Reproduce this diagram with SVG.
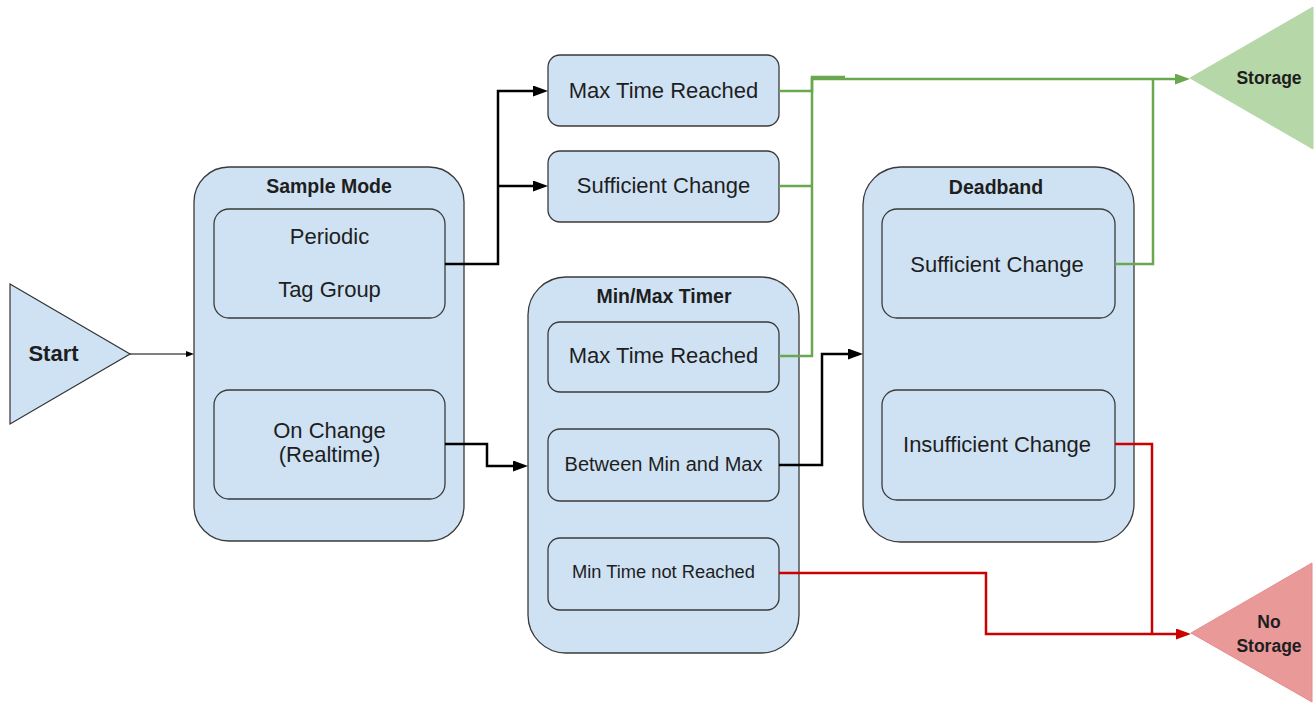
<svg xmlns="http://www.w3.org/2000/svg" width="1315" height="703" viewBox="0 0 1315 703">
  <style>
    .box { fill: #cfe2f3; stroke: #3a3a3a; stroke-width: 1.3; }
    .t { font-family: "Liberation Sans", Arial, sans-serif; fill: #1e1e1e; text-anchor: middle; }
    .lbl { font-size: 22px; }
    .ttl { font-size: 19.5px; font-weight: bold; }
    .term { font-weight: bold; }
    .wire { fill: none; stroke-width: 2.5; stroke-linejoin: miter; }
    .blk { stroke: #000; }
    .grn { stroke: #6aa84f; }
    .red { stroke: #cc0000; }
  </style>
  <defs>
    <marker id="ahBlack" markerUnits="userSpaceOnUse" markerWidth="15" markerHeight="11" refX="9" refY="5.5" orient="auto">
      <path d="M0,0 L15,5.5 L0,11 z" fill="#000"/>
    </marker>
    <marker id="ahGreen" markerUnits="userSpaceOnUse" markerWidth="15" markerHeight="11" refX="9" refY="5.5" orient="auto">
      <path d="M0,0 L15,5.5 L0,11 z" fill="#6aa84f"/>
    </marker>
    <marker id="ahRed" markerUnits="userSpaceOnUse" markerWidth="15" markerHeight="11" refX="9" refY="5.5" orient="auto">
      <path d="M0,0 L15,5.5 L0,11 z" fill="#cc0000"/>
    </marker>
    <marker id="ahSmall" markerUnits="userSpaceOnUse" markerWidth="8" markerHeight="6" refX="5" refY="3" orient="auto">
      <path d="M0,0 L8,3 L0,6 z" fill="#000"/>
    </marker>
  </defs>

  <!-- terminals -->
  <g id="start">
    <polygon points="10,284 130,354 10,424" fill="#cfe2f3" stroke="#333" stroke-width="1.2"/>
    <text class="t term" x="53.5" y="361" font-size="22">Start</text>
  </g>
  <g id="storage">
    <polygon points="1313,7 1190,78 1313,149" fill="#b6d7a8" stroke="#b6d7a8" stroke-width="1"/>
    <text class="t term" x="1269" y="84" font-size="17.5">Storage</text>
  </g>
  <g id="no-storage">
    <polygon points="1312,563 1191,633 1312,702" fill="#ea9999" stroke="#e58c8c" stroke-width="1"/>
    <text class="t term" x="1269" y="628" font-size="17.5">No</text>
    <text class="t term" x="1269" y="652" font-size="17.5">Storage</text>
  </g>

  <!-- sample mode -->
  <g id="sample-mode">
    <rect class="box" x="194" y="167" width="270" height="374" rx="35"/>
    <text class="t ttl" x="329" y="193">Sample Mode</text>
  </g>
  <g id="periodic">
    <rect class="box" x="214" y="209" width="231" height="109" rx="15"/>
    <text class="t lbl" x="329.5" y="244">Periodic</text>
    <text class="t lbl" x="329.5" y="297">Tag Group</text>
  </g>
  <g id="on-change">
    <rect class="box" x="214" y="390" width="231" height="109" rx="15"/>
    <text class="t lbl" x="329.5" y="438">On Change</text>
    <text class="t lbl" x="329.5" y="462">(Realtime)</text>
  </g>

  <!-- periodic outcomes -->
  <g id="max-time-top">
    <rect class="box" x="548" y="55" width="231" height="71" rx="12"/>
    <text class="t lbl" x="663.5" y="98">Max Time Reached</text>
  </g>
  <g id="sufficient-top">
    <rect class="box" x="548" y="151" width="231" height="71" rx="12"/>
    <text class="t lbl" x="663.5" y="193">Sufficient Change</text>
  </g>

  <!-- min/max timer -->
  <g id="min-max-timer">
    <rect class="box" x="528" y="277" width="271" height="376" rx="38"/>
    <text class="t ttl" x="664" y="303">Min/Max Timer</text>
  </g>
  <g id="max-time-timer">
    <rect class="box" x="548" y="322" width="231" height="70" rx="12"/>
    <text class="t lbl" x="663.5" y="363">Max Time Reached</text>
  </g>
  <g id="between">
    <rect class="box" x="548" y="429" width="231" height="72" rx="12"/>
    <text class="t" x="663.5" y="471" font-size="20">Between Min and Max</text>
  </g>
  <g id="min-time">
    <rect class="box" x="548" y="538" width="231" height="72" rx="12"/>
    <text class="t" x="663.5" y="578" font-size="18.3">Min Time not Reached</text>
  </g>

  <!-- deadband -->
  <g id="deadband">
    <rect class="box" x="863" y="167" width="271" height="375" rx="38"/>
    <text class="t ttl" x="996" y="194">Deadband</text>
  </g>
  <g id="db-sufficient">
    <rect class="box" x="882" y="209" width="233" height="109" rx="15"/>
    <text class="t lbl" x="997" y="272">Sufficient Change</text>
  </g>
  <g id="db-insufficient">
    <rect class="box" x="882" y="390" width="233" height="110" rx="15"/>
    <text class="t lbl" x="997" y="452">Insufficient Change</text>
  </g>

  <!-- connectors -->
  <g id="connectors">
    <path d="M130,354 H191" fill="none" stroke="#000" stroke-width="1.2" marker-end="url(#ahSmall)"/>
    <path class="wire blk" d="M445,264 H498 V91 H542" marker-end="url(#ahBlack)"/>
    <path class="wire blk" d="M498,186 H542" marker-end="url(#ahBlack)"/>
    <path class="wire blk" d="M445,444 H487 V466 H522" marker-end="url(#ahBlack)"/>
    <path class="wire blk" d="M779,465 H822 V354 H857" marker-end="url(#ahBlack)"/>

    <path class="wire grn" d="M779,91 H812 V77 H845"/>
    <path class="wire grn" d="M779,186 H812"/>
    <path class="wire grn" d="M779,356 H812 V79 H1184" marker-end="url(#ahGreen)"/>
    <path class="wire grn" d="M1115,264 H1153 V79"/>

    <path class="wire red" d="M779,573 H986 V634 H1185" marker-end="url(#ahRed)"/>
    <path class="wire red" d="M1115,444 H1152 V634"/>
  </g>
</svg>
